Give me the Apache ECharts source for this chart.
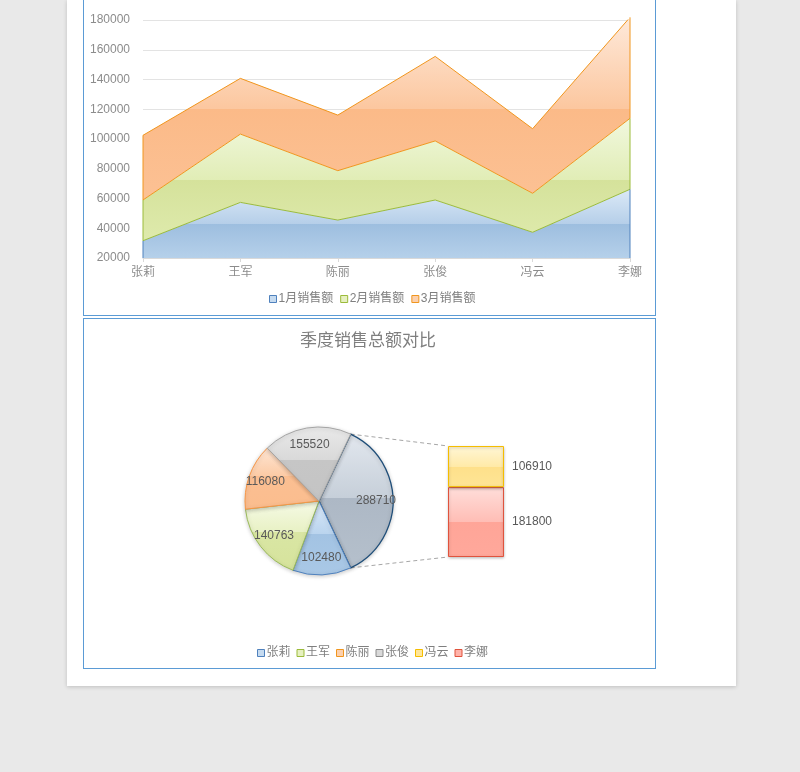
<!DOCTYPE html>
<html>
<head>
<meta charset="utf-8">
<script src="https://cdn.jsdelivr.net/npm/echarts@6/dist/echarts.min.js"></script>
<style>
  html, body { margin:0; padding:0; background:#e9e9e9; width:800px; height:772px; overflow:hidden; }
  #page { position:absolute; left:67px; top:0; width:669px; height:686px; background:#fff; box-shadow:0 1px 4px rgba(0,0,0,0.18); }
  .box { position:absolute; border:1px solid #5b9bd5; box-sizing:border-box; }
  #box1 { left:83px; top:-3px; width:573px; height:319px; }
  #box2 { left:83px; top:318px; width:573px; height:351px; }
  #chart { position:absolute; left:0; top:0; width:800px; height:772px; }
</style>
</head>
<body>
<div id="page"></div>
<div id="box1" class="box"></div>
<div id="box2" class="box"></div>
<div id="chart"></div>
<script>
// ---- data ----
const categories = ['张莉', '王军', '陈丽', '张俊', '冯云', '李娜'];
const seriesNames = ['1月销售额', '2月销售额', '3月销售额'];
const jan = [31600, 57400, 45500, 59000, 37300, 66200];
const feb = [27400, 45900, 33200, 39700, 26200, 47700];
const mar = [43480, 37463, 37380, 56820, 43410, 67900];
const yTicks = { min: 20000, max: 180000, interval: 20000 };

const pieTitle = '季度销售总额对比';
const people = ['张莉', '王军', '陈丽', '张俊', '冯云', '李娜'];
const totals = [102480, 140763, 116080, 155520, 106910, 181800];
const secondaryCount = 2;   // last two go to the secondary bar
const otherName = '其他';

// ---- styles ----
const FONT = '"Liberation Sans", "Noto Sans CJK SC", sans-serif';
const AX = '#8c8c8c';
function vgrad(stops) {
  return new echarts.graphic.LinearGradient(0, 0, 0, 1, stops.map(s => ({ offset: s[0], color: s[1] })));
}
const areaGrad = [
  vgrad([[0, '#dbe9f7'], [0.5, '#b6cfe9'], [0.5, '#9dbedf'], [1, '#b5d0ea']]),
  vgrad([[0, '#f1f8de'], [0.5, '#e1edb6'], [0.5, '#d5e29b'], [1, '#deeaac']]),
  vgrad([[0, '#fee9da'], [0.5, '#fcc79f'], [0.5, '#fbba88'], [1, '#fcc194']])
];
const areaLine = ['#9bbb3a', '#f0961e', '#f0961e'];
const edgeColor = ['#4f81bd', '#9bbb3a', '#f0961e'];
const legend1Style = [
  { color: '#c6dbf0', borderColor: '#4f81bd' },
  { color: '#e6f0c0', borderColor: '#9bbb3a' },
  { color: '#fcd0ad', borderColor: '#f0961e' }
];
const pieStyles = {
  '张莉': { g: [[0, '#dbe9f8'], [0.45, '#bad4ee'], [0.45, '#a3c3e3'], [1, '#a9c8e6']], b: '#4f81bd' },
  '王军': { g: [[0, '#f6fae6'], [0.45, '#e8f1c4'], [0.45, '#d9e6a4'], [1, '#d6e39c']], b: '#9bbb59' },
  '陈丽': { g: [[0, '#fee6d4'], [0.45, '#fccba6'], [0.45, '#fbbf92'], [1, '#fbbd8e']], b: '#f79646' },
  '张俊': { g: [[0, '#e9e9e9'], [0.45, '#d9d9d9'], [0.45, '#c6c6c6'], [1, '#c4c4c4']], b: '#a5a5a5' },
  '其他': { g: [[0, '#e2e7ee'], [0.48, '#c6cfd9'], [0.48, '#adb8c5'], [1, '#b5c0cc']], b: '#1f4e79' }
};
const barStyles = {
  '冯云': { g: [[0, '#fff6d6'], [0.5, '#ffeaa8'], [0.5, '#fee08a'], [1, '#fee596']], b: '#f5bd00' },
  '李娜': { g: [[0, '#ffdeda'], [0.5, '#ffbdb5'], [0.5, '#ffa598'], [1, '#ffa89b']], b: '#e0533d' }
};
const legend2Fill = { '张莉': ['#c6dbf0', '#4f81bd'], '王军': ['#e6f0c0', '#9bbb3a'], '陈丽': ['#fcd0ad', '#f0961e'],
  '张俊': ['#d9d9d9', '#8c8c8c'], '冯云': ['#ffe699', '#f5bd00'], '李娜': ['#ffb3aa', '#e0533d'] };

// ---- derived ----
const monthData = [jan, feb, mar];
const nMain = people.length - secondaryCount;
const secNames = people.slice(nMain);
const secVals = totals.slice(nMain);
const otherTotal = secVals.reduce((a, b) => a + b, 0);
const pieNames = [otherName].concat(people.slice(0, nMain));
const pieVals = [otherTotal].concat(totals.slice(0, nMain));
const pieSum = pieVals.reduce((a, b) => a + b, 0);
const halfOther = otherTotal / pieSum * 360 / 2;   // "other" slice centred on 3 o'clock
const PIE_C = [319, 501], PIE_R = 74;

const pieData = pieNames.map((n, i) => ({
  name: n, value: pieVals[i],
  itemStyle: { color: vgrad(pieStyles[n].g), borderColor: pieStyles[n].b, borderWidth: n === otherName ? 1.3 : 1 }
}));

const chart = echarts.init(document.getElementById('chart'), null, { renderer: 'canvas' });

const areaSeries = seriesNames.map((nm, k) => ({
  name: nm, type: 'line', stack: 'total', xAxisIndex: 0, yAxisIndex: 0,
  data: monthData[k], symbol: 'none', z: 10 - k,
  lineStyle: { color: areaLine[k], width: 1 },
  itemStyle: { color: legend1Style[k].borderColor },
  areaStyle: { color: areaGrad[k], opacity: 1 }
}));

const barSeries = secNames.slice().reverse().map(n => ({
  name: n, type: 'bar', stack: 'sec', xAxisIndex: 1, yAxisIndex: 1,
  data: [secVals[secNames.indexOf(n)]], barWidth: '100%',
  itemStyle: { color: vgrad(barStyles[n].g), borderColor: barStyles[n].b, borderWidth: 1,
    shadowBlur: 3, shadowColor: 'rgba(0,0,0,0.25)', shadowOffsetY: 1 },
  label: { show: true, position: 'right', distance: 8, color: '#595959', fontSize: 12, fontFamily: FONT },
  emphasis: { disabled: true }
}));

const legendText = { fontSize: 12, color: '#7f7f7f', fontFamily: FONT, padding: [0, 0, 0, -3] };

const option = {
  animation: false,
  title: { text: pieTitle, left: 300, top: 333, padding: 0,
    textStyle: { fontSize: 17, fontWeight: 'normal', color: '#7f7f7f', fontFamily: FONT } },
  legend: [
    { left: 269, top: 293, padding: 0, itemWidth: 7, itemHeight: 7, itemGap: 7, icon: 'rect',
      textStyle: legendText,
      data: seriesNames.map((n, k) => ({ name: n, itemStyle: { color: legend1Style[k].color, borderColor: legend1Style[k].borderColor, borderWidth: 1 } })) },
    { left: 257, top: 647, padding: 0, itemWidth: 7, itemHeight: 7, itemGap: 6, icon: 'rect',
      textStyle: legendText,
      data: people.map(n => ({ name: n, itemStyle: { color: legend2Fill[n][0], borderColor: legend2Fill[n][1], borderWidth: 1 } })) }
  ],
  grid: [
    { left: 143, top: 20, width: 487, height: 238 },
    { left: 448, top: 446, width: 56, height: 111 }
  ],
  xAxis: [
    { type: 'category', gridIndex: 0, data: categories, boundaryGap: false,
      axisLine: { lineStyle: { color: '#d9d9d9' } },
      axisTick: { show: true, length: 4, lineStyle: { color: '#d9d9d9' } },
      axisLabel: { color: AX, fontSize: 12, margin: 9, fontFamily: FONT } },
    { type: 'category', gridIndex: 1, data: ['sec'], show: false }
  ],
  yAxis: [
    { type: 'value', gridIndex: 0, min: yTicks.min, max: yTicks.max, interval: yTicks.interval,
      axisLine: { show: false }, axisTick: { show: false },
      axisLabel: { color: AX, fontSize: 12, margin: 13, fontFamily: FONT, formatter: v => String(v) },
      splitLine: { lineStyle: { color: '#e3e3e3' } } },
    { type: 'value', gridIndex: 1, min: 0, max: otherTotal, show: false }
  ],
  series: areaSeries.concat(barSeries).concat([
    { name: '销售总额', type: 'pie', center: PIE_C, radius: [0, PIE_R], startAngle: halfOther, clockwise: true,
      data: pieData, label: { show: false }, labelLine: { show: false },
      itemStyle: { shadowBlur: 4, shadowColor: 'rgba(0,0,0,0.2)', shadowOffsetY: 1 },
      emphasis: { disabled: true }, z: 2 },
    { name: '标签', type: 'pie', center: PIE_C, radius: [34, PIE_R], startAngle: halfOther, clockwise: true,
      silent: true, z: 3,
      data: pieNames.map((n, i) => ({ name: n, value: pieVals[i] })),
      itemStyle: { color: 'rgba(0,0,0,0)' },
      label: { show: true, position: 'inside', formatter: '{c}', color: '#595959', fontSize: 12, fontFamily: FONT },
      labelLine: { show: false }, emphasis: { disabled: true } }
  ])
};
chart.setOption(option);

// ---- decorations derived from data & layout ----
const g = [];
// vertical closing edges of stacked areas at both ends
[0, categories.length - 1].forEach(ci => {
  let cum = 0;
  monthData.forEach((arr, k) => {
    const lo = cum === 0 ? yTicks.min : cum;
    cum += arr[ci];
    const p1 = chart.convertToPixel({ xAxisIndex: 0, yAxisIndex: 0 }, [ci, lo]);
    const p2 = chart.convertToPixel({ xAxisIndex: 0, yAxisIndex: 0 }, [ci, cum]);
    g.push({ type: 'line', z: 20, shape: { x1: p1[0], y1: p1[1], x2: p2[0], y2: p2[1] },
      style: { stroke: edgeColor[k], lineWidth: 1 } });
  });
});
// pie-of-pie connectors
const rect = chart.getModel().getComponent('grid', 1).coordinateSystem.getRect();
const a1 = halfOther * Math.PI / 180, a2 = -halfOther * Math.PI / 180;
const e1 = [PIE_C[0] + PIE_R * Math.cos(a1), PIE_C[1] - PIE_R * Math.sin(a1)];
const e2 = [PIE_C[0] + PIE_R * Math.cos(a2), PIE_C[1] - PIE_R * Math.sin(a2)];
const topY = chart.convertToPixel({ xAxisIndex: 1, yAxisIndex: 1 }, [0, otherTotal])[1];
const botY = chart.convertToPixel({ xAxisIndex: 1, yAxisIndex: 1 }, [0, 0])[1];
g.push({ type: 'line', z: 1, shape: { x1: e1[0], y1: e1[1], x2: rect.x, y2: topY }, style: { stroke: '#a6a6a6', lineWidth: 1, lineDash: [4, 3] } });
g.push({ type: 'line', z: 1, shape: { x1: e2[0], y1: e2[1], x2: rect.x, y2: botY }, style: { stroke: '#a6a6a6', lineWidth: 1, lineDash: [4, 3] } });
chart.setOption({ graphic: g });
</script>
</body>
</html>
